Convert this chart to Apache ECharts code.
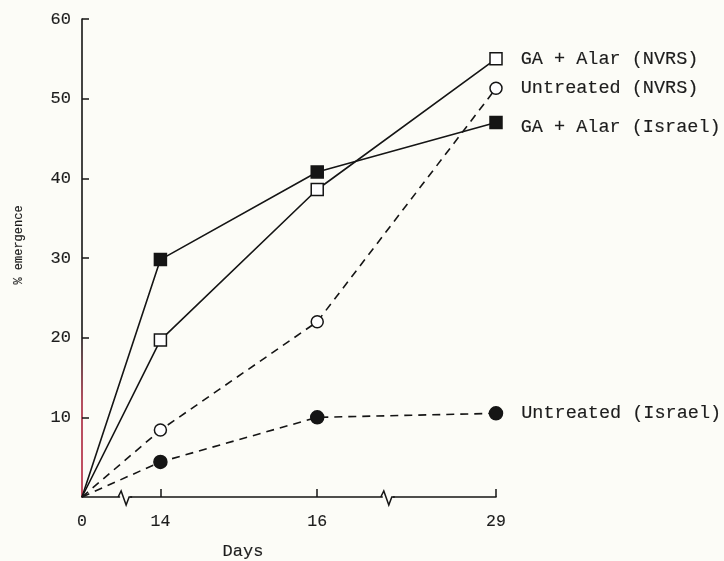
<!DOCTYPE html>
<html>
<head>
<meta charset="utf-8">
<script src="https://cdn.jsdelivr.net/npm/echarts@6/dist/echarts.min.js"></script>
<style>
html,body{margin:0;padding:0;background:#fcfcf7;}
#chart{width:724px;height:561px;}
</style>
</head>
<body>
<div id="chart"></div>
<script>
// Data
const days = [0, 14, 16, 29];
// positions of each day on the broken x axis (scale definition)
const daySlot = [0, 1, 3, 5.28];
const breakSlots = [0.55, 3.9];
const yTicks = [10, 20, 30, 40, 50, 60];

const gaAlarNVRS = [0, 19.7, 38.6, 55.0];
const untreatedNVRS = [0, 8.4, 22.0, 51.3];
const gaAlarIsrael = [0, 29.8, 40.8, 47.0];
const untreatedIsrael = [0, 4.4, 10.0, 10.5];

const MONO = '"Liberation Mono", "DejaVu Sans Mono", monospace';
const INK = '#151515';
const TXT = '#1c1c1c';
const thick = { textBorderColor: TXT, textBorderWidth: 0.15 };

function pts(vals) { return vals.map((v, i) => [daySlot[i], v]); }

function mkSeries(name, vals, opts) {
  const data = pts(vals).map((p, i) => {
    const d = { value: p };
    if (i === 0) { d.symbol = 'none'; }
    if (i === vals.length - 1) {
      d.label = Object.assign({
        show: true, position: 'right', distance: 18,
        formatter: name, fontFamily: MONO, fontSize: 18.5, color: TXT,
        offset: [0, opts.labelDy || 0]
      }, thick);
    }
    return d;
  });
  return {
    type: 'line', name: name, data: data,
    symbol: opts.symbol, symbolSize: opts.size || 12,
    itemStyle: { color: opts.fill, borderColor: INK, borderWidth: 1.5 },
    lineStyle: { color: INK, width: 1.6, type: opts.dashed ? [8, 6] : 'solid' },
    z: 3, silent: true, animation: false
  };
}

const chart = echarts.init(document.getElementById('chart'), null, { renderer: 'canvas' });

const yAxisColor = new echarts.graphic.LinearGradient(0, 0, 0, 1, [
  { offset: 0, color: INK },
  { offset: 0.66, color: INK },
  { offset: 0.8, color: '#a3233a' },
  { offset: 1, color: '#b8243c' }
]);

const option = {
  backgroundColor: '#fcfcf7',
  animation: false,
  grid: { left: 82, right: 724 - 496, top: 19, bottom: 64, containLabel: false, outerBoundsMode: 'none' },
  xAxis: {
    type: 'value', min: 0, max: daySlot[3],
    name: 'Days', nameLocation: 'middle', nameGap: 46,
    nameTextStyle: Object.assign({ fontFamily: MONO, fontSize: 17, color: TXT, padding: [0, 92, 0, 0] }, thick),
    axisLine: { show: true, lineStyle: { color: INK, width: 1.6 } },
    axisTick: { show: true, inside: true, length: 8, lineStyle: { color: INK, width: 1.5 }, customValues: daySlot.slice(1) },
    axisLabel: Object.assign({
      customValues: daySlot, margin: 16,
      formatter: v => { const i = daySlot.indexOf(v); return i >= 0 ? String(days[i]) : ''; },
      fontFamily: MONO, fontSize: 16.5, color: TXT
    }, thick),
    splitLine: { show: false }
  },
  yAxis: {
    type: 'value', min: 0, max: 60, interval: 10,
    name: '% emergence', nameLocation: 'middle', nameGap: 57, nameRotate: 90,
    nameTextStyle: Object.assign({ fontFamily: MONO, fontSize: 12, color: TXT, padding: [0, 0, 0, 26] }, thick),
    axisLine: { show: true, lineStyle: { color: yAxisColor, width: 1.6 } },
    axisTick: { show: true, inside: true, length: 7, lineStyle: { color: INK, width: 1.5 }, customValues: yTicks },
    axisLabel: Object.assign({
      customValues: yTicks, margin: 11,
      fontFamily: MONO, fontSize: 17, color: TXT
    }, thick),
    splitLine: { show: false }
  },
  series: [
    mkSeries('GA + Alar (Israel)', gaAlarIsrael, { symbol: 'rect', fill: INK, labelDy: 5 }),
    mkSeries('GA + Alar (NVRS)', gaAlarNVRS, { symbol: 'rect', fill: '#ffffff' }),
    mkSeries('Untreated (NVRS)', untreatedNVRS, { symbol: 'circle', fill: '#ffffff', dashed: true }),
    mkSeries('Untreated (Israel)', untreatedIsrael, { symbol: 'circle', fill: INK, dashed: true, size: 13 }),
    {
      type: 'custom', silent: true, z: 5,
      data: breakSlots.map(s => [s, 0]),
      renderItem: function (params, api) {
        const p = api.coord([api.value(0), api.value(1)]);
        const x = p[0], y = p[1];
        return {
          type: 'group',
          children: [
            { type: 'rect', shape: { x: x - 5, y: y - 2, width: 10, height: 4 }, style: { fill: '#fcfcf7' } },
            {
              type: 'polyline',
              shape: { points: [[x - 7, y], [x - 4, y - 6], [x + 1, y + 8], [x + 4, y], [x + 7, y]] },
              style: { stroke: INK, lineWidth: 1.5, fill: null }
            }
          ]
        };
      }
    }
  ]
};
chart.setOption(option);
</script>
</body>
</html>
